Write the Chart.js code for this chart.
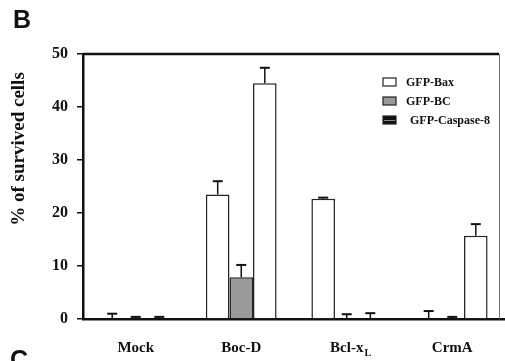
<!DOCTYPE html>
<html>
<head>
<meta charset="utf-8">
<script src="https://cdn.jsdelivr.net/npm/chart.js@4.4.0/dist/chart.umd.min.js"></script>
<style>
	html, body { margin: 0; padding: 0; background: #fff; }
	#wrap { width: 505px; height: 361px; }
</style>
</head>
<body>
<div id="wrap"><canvas id="bar-chart" width="505" height="361"></canvas></div>
<script>
var groups = ['Mock', 'Boc-D', 'Bcl-xL', 'CrmA'];
var seriesNames = ['GFP-Bax', 'GFP-BC', 'GFP-Caspase-8'];

var baxValues = [0.1, 23.5, 22.7, 0.1];
var bcValues = [0.1, 7.9, 0.1, 0.1];
var casp8Values = [0.1, 44.5, 0.1, 15.7];

var baxErrors = [0.9, 2.5, 0.2, 1.4];
var bcErrors = [0.3, 2.3, 0.8, 0.3];
var casp8Errors = [0.3, 2.9, 1.0, 2.2];

var yTicks = [0, 10, 20, 30, 40, 50];

var serif = "'Liberation Serif', 'Times New Roman', serif";

// error bars on top of each bar, upper side only
var errorBars = {
	id: 'errorBars',
	afterDatasetsDraw: function(chart) {
		var ctx = chart.ctx;
		var y = chart.scales.y;
		ctx.save();
		ctx.strokeStyle = '#111';
		chart.data.datasets.forEach(function(ds, i) {
			var meta = chart.getDatasetMeta(i);
			meta.data.forEach(function(bar, j) {
				var e = ds.errors[j];
				if (!e) return;
				var y0 = y.getPixelForValue(ds.data[j]);
				var y1 = y.getPixelForValue(ds.data[j] + e);
				ctx.lineWidth = 1.5;
				ctx.beginPath();
				ctx.moveTo(bar.x, y0);
				ctx.lineTo(bar.x, y1);
				ctx.stroke();
				ctx.lineWidth = 2;
				ctx.beginPath();
				ctx.moveTo(bar.x - 5, y1);
				ctx.lineTo(bar.x + 5, y1);
				ctx.stroke();
			});
		});
		ctx.restore();
	}
};

// frame, y title, legend, subscript and panel letters
var extras = {
	id: 'extras',
	afterDraw: function(chart) {
		var ctx = chart.ctx;
		var a = chart.chartArea;
		ctx.save();

		ctx.strokeStyle = '#111';
		ctx.lineWidth = 2.5;
		ctx.beginPath();
		ctx.moveTo(a.left, a.top);
		ctx.lineTo(499, a.top);
		ctx.stroke();
		ctx.strokeStyle = '#777';
		ctx.lineWidth = 1;
		ctx.beginPath();
		ctx.moveTo(499.5, a.top);
		ctx.lineTo(499.5, a.bottom);
		ctx.stroke();

		ctx.fillStyle = '#111';
		ctx.font = 'bold 19px ' + serif;
		ctx.textAlign = 'center';
		ctx.textBaseline = 'middle';
		ctx.translate(19, 149);
		ctx.rotate(-Math.PI / 2);
		ctx.fillText('% of survived cells', 0, 0);
		ctx.setTransform(1, 0, 0, 1, 0, 0);

		// subscript L of Bcl-xL
		var x = chart.scales.x;
		ctx.font = 'bold 15px ' + serif;
		var w = ctx.measureText('Bcl-x').width;
		var cx = x.getPixelForValue(2);
		ctx.font = 'bold 10px ' + serif;
		ctx.textAlign = 'left';
		ctx.textBaseline = 'middle';
		ctx.fillText('L', cx + w / 2 + 1, 353);

		// legend
		var fills = ['#ffffff', '#9a9a9a', '#111111'];
		var rows = [82, 101, 120];
		ctx.font = 'bold 12px ' + serif;
		ctx.textAlign = 'left';
		chart.data.datasets.forEach(function(ds, i) {
			var ry = rows[i];
			ctx.fillStyle = fills[i];
			ctx.fillRect(383, ry - 4, 13, 8);
			ctx.strokeStyle = '#222';
			ctx.lineWidth = 1.2;
			ctx.strokeRect(383, ry - 4, 13, 8);
			if (i === 2) {
				ctx.strokeStyle = '#888';
				ctx.lineWidth = 1;
				ctx.beginPath();
				ctx.moveTo(384, ry + 0.5);
				ctx.lineTo(395, ry + 0.5);
				ctx.stroke();
			}
			ctx.fillStyle = '#111';
			ctx.fillText(ds.label, i === 2 ? 410 : 406, ry + 1);
		});

		// next panel letter, cut by the bottom edge
		ctx.font = 'bold 25px "Liberation Sans", Arial, sans-serif';
		ctx.textBaseline = 'top';
		ctx.fillText('C', 10, 349);
		ctx.restore();
	}
};

new Chart(document.getElementById('bar-chart'), {
	type: 'bar',
	data: {
		labels: groups,
		datasets: [
			{ label: seriesNames[0], data: baxValues, errors: baxErrors, backgroundColor: '#ffffff' },
			{ label: seriesNames[1], data: bcValues, errors: bcErrors, backgroundColor: '#9a9a9a' },
			{ label: seriesNames[2], data: casp8Values, errors: casp8Errors, backgroundColor: '#ffffff' }
		]
	},
	options: {
		responsive: false,
		animation: false,
		maintainAspectRatio: false,
		layout: { padding: { left: 13, top: 0, right: 0, bottom: 0 } },
		datasets: {
			bar: {
				borderColor: '#222',
				borderWidth: 1.5,
				categoryPercentage: 0.67,
				barPercentage: 1.0
			}
		},
		plugins: {
			legend: { display: false },
			tooltip: { enabled: false },
			title: {
				display: true,
				text: 'B',
				align: 'start',
				color: '#111',
				font: { family: "'Liberation Sans', Arial, sans-serif", size: 25, weight: 'bold' },
				padding: { top: 6, bottom: 18 }
			}
		},
		scales: {
			x: {
				afterFit: function(scale) { scale.height = 42; },
				grid: { display: false },
				border: { display: true, color: '#111', width: 2.5 },
				ticks: {
					color: '#111',
					padding: 12,
					maxRotation: 0,
					font: { family: serif, size: 15, weight: 'bold' },
					callback: function(v, i) {
						var s = groups[i];
						return s === 'Bcl-xL' ? 'Bcl-x' : s;
					}
				}
			},
			y: {
				min: 0,
				max: 50,
				afterFit: function(scale) { scale.width = 70; },
				afterBuildTicks: function(scale) {
					scale.ticks = yTicks.map(function(v) { return { value: v }; });
				},
				grid: { drawOnChartArea: false, tickLength: 6, color: '#111', lineWidth: 1.5 },
				border: { display: true, color: '#111', width: 2.5 },
				ticks: {
					color: '#111',
					padding: 9,
					font: { family: serif, size: 16, weight: 'bold' }
				}
			}
		}
	},
	plugins: [errorBars, extras]
});
</script>
</body>
</html>
